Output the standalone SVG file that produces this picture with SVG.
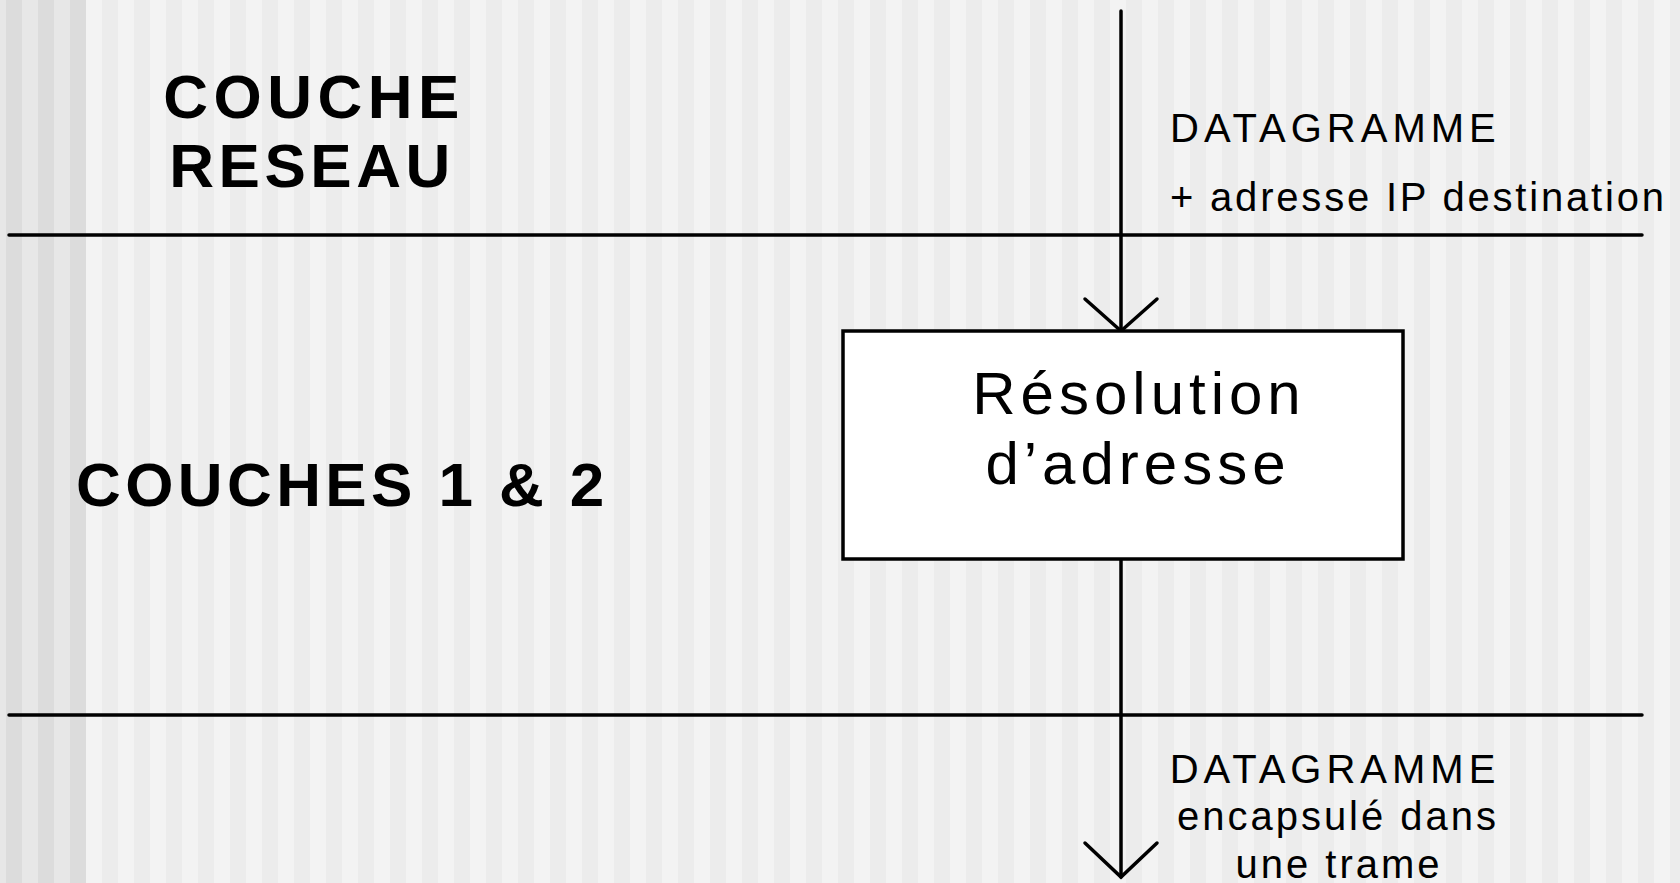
<svg xmlns="http://www.w3.org/2000/svg" width="1680" height="883" viewBox="0 0 1680 883">
<defs>
<pattern id="stripes" x="86" y="0" width="32" height="883" patternUnits="userSpaceOnUse">
<rect x="0" y="0" width="16" height="883" fill="#f3f3f3"/>
<rect x="16" y="0" width="16" height="883" fill="#ececec"/>
</pattern>
<pattern id="stripesDark" x="86" y="0" width="32" height="883" patternUnits="userSpaceOnUse">
<rect x="0" y="0" width="16" height="883" fill="#e7e7e7"/>
<rect x="16" y="0" width="16" height="883" fill="#dcdcdc"/>
</pattern>
<style>
.layer{font-family:"Liberation Sans",Arial,sans-serif;font-weight:bold;font-size:62px;fill:#000;letter-spacing:5.5px}
.lbl{font-family:"Liberation Sans",Arial,sans-serif;font-size:40px;fill:#000;letter-spacing:3px}
.wide{letter-spacing:5px}
.box{font-family:"Liberation Sans",Arial,sans-serif;font-size:60px;fill:#000;letter-spacing:5px}
.ln{stroke:#000;stroke-width:3.5;fill:none;stroke-linecap:round}
</style>
</defs>
<rect x="0" y="0" width="1680" height="883" fill="url(#stripes)"/>
<rect x="0" y="0" width="86" height="883" fill="url(#stripesDark)"/>

<g id="separators">
<line class="ln" x1="9" y1="235" x2="1642" y2="235"/>
<line class="ln" x1="9" y1="715" x2="1642" y2="715"/>
</g>

<g id="label-couche-reseau">
<text class="layer" x="314" y="118" text-anchor="middle">COUCHE</text>
<text class="layer" x="312" y="187" text-anchor="middle" style="letter-spacing:4.5px">RESEAU</text>
</g>
<g id="label-couches-1-2">
<text class="layer" x="76" y="506" style="letter-spacing:4.4px">COUCHES 1 &amp; 2</text>
</g>

<g id="connectors">
<line class="ln" x1="1121" y1="11" x2="1121" y2="331"/>
<polyline class="ln" points="1085,299 1121,331 1157,299"/>
<line class="ln" x1="1121" y1="557" x2="1121" y2="877"/>
<polyline class="ln" points="1085,843 1121,877 1157,843"/>
</g>

<g id="node-resolution">
<rect x="843" y="331" width="560" height="228" fill="#fff" stroke="#000" stroke-width="3.5"/>
<text class="box" x="1139" y="414" text-anchor="middle">Résolution</text>
<text class="box" x="1138" y="484" text-anchor="middle">d’adresse</text>
</g>

<g id="label-top">
<text class="lbl wide" x="1170" y="142">DATAGRAMME</text>
<text class="lbl" x="1170" y="211" style="letter-spacing:2.8px">+ adresse IP destination</text>
</g>
<g id="label-bottom">
<text class="lbl wide" x="1335" y="783" text-anchor="middle">DATAGRAMME</text>
<text class="lbl" x="1338" y="830" text-anchor="middle">encapsulé dans</text>
<text class="lbl" x="1339" y="878" text-anchor="middle">une trame</text>
</g>
</svg>
